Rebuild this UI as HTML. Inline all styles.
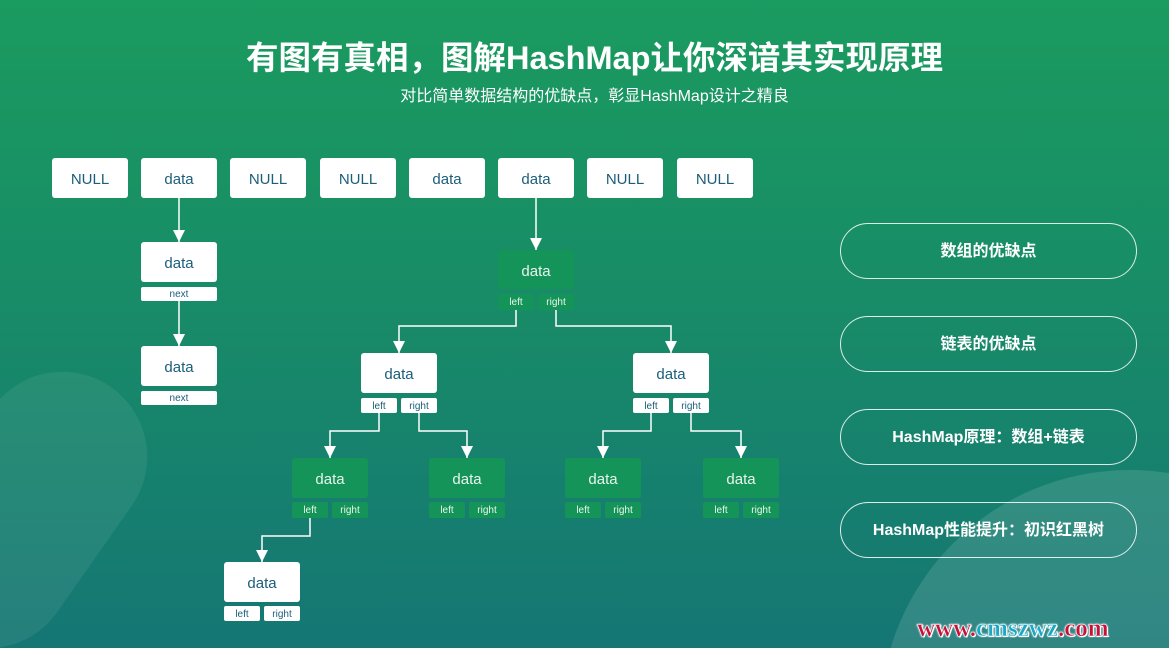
<!DOCTYPE html>
<html style="margin:0;width:1169px;height:648px;overflow:hidden;background:#157674"><head><meta charset="utf-8"><style>
body{margin:0;width:1169px;height:648px;overflow:hidden;position:relative;font-family:"Liberation Sans","Noto Sans CJK SC",sans-serif;}
#w{position:absolute;left:0;top:0;width:1169px;height:648px;overflow:hidden;background:linear-gradient(180deg,#1a9b5f 0%,#188c67 45%,#157674 100%);}
.b{position:absolute;background:#fff;border-radius:3px;color:#1b5e7a;text-align:center;font-size:15px;}
.g{position:absolute;background:#149458;border-radius:3px;color:#e8f5ee;text-align:center;font-size:15px;}
.s{font-size:10px;border-radius:2px;}
.pill{position:absolute;left:840px;width:295px;height:54px;border:1.5px solid rgba(255,255,255,.85);border-radius:28px;color:#fff;font-weight:bold;font-size:16px;line-height:56px;text-align:center;}
</style></head><body><div id="w">
<div style="position:absolute;left:-60px;top:360px;width:170px;height:300px;background:rgba(255,255,255,.07);border-radius:85px;transform:rotate(35deg)"></div>
<div style="position:absolute;left:880px;top:470px;width:500px;height:500px;background:rgba(255,255,255,.12);border-radius:50%"></div>
<div style="position:absolute;left:0;width:1189px;top:32px;text-align:center;color:#fff;font-weight:bold;font-size:32.5px;">有图有真相，图解HashMap让你深谙其实现原理</div>
<div style="position:absolute;left:0;width:1189px;top:82px;text-align:center;color:#fff;font-size:16px;">对比简单数据结构的优缺点，彰显HashMap设计之精良</div>

<div class="b" style="left:52px;top:158px;width:76px;height:40px;line-height:44px">NULL</div>
<div class="b" style="left:141px;top:158px;width:76px;height:40px;line-height:44px">data</div>
<div class="b" style="left:230px;top:158px;width:76px;height:40px;line-height:44px">NULL</div>
<div class="b" style="left:320px;top:158px;width:76px;height:40px;line-height:44px">NULL</div>
<div class="b" style="left:409px;top:158px;width:76px;height:40px;line-height:44px">data</div>
<div class="b" style="left:498px;top:158px;width:76px;height:40px;line-height:44px">data</div>
<div class="b" style="left:587px;top:158px;width:76px;height:40px;line-height:44px">NULL</div>
<div class="b" style="left:677px;top:158px;width:76px;height:40px;line-height:44px">NULL</div>

<div class="b" style="left:141px;top:242px;width:76px;height:40px;line-height:44px">data</div>
<div class="b s" style="left:141px;top:287px;width:76px;height:14px;line-height:16px">next</div>
<div class="b" style="left:141px;top:346px;width:76px;height:40px;line-height:44px">data</div>
<div class="b s" style="left:141px;top:391px;width:76px;height:14px;line-height:16px">next</div>

<div class="g" style="left:498px;top:250px;width:76px;height:39px;line-height:43px">data</div>
<div class="g s" style="left:498px;top:294px;width:36px;height:16px;line-height:18px">left</div>
<div class="g s" style="left:538px;top:294px;width:36px;height:16px;line-height:18px">right</div>

<div class="b" style="left:361px;top:353px;width:76px;height:40px;line-height:44px">data</div>
<div class="b s" style="left:361px;top:398px;width:36px;height:15px;line-height:17px">left</div>
<div class="b s" style="left:401px;top:398px;width:36px;height:15px;line-height:17px">right</div>
<div class="b" style="left:633px;top:353px;width:76px;height:40px;line-height:44px">data</div>
<div class="b s" style="left:633px;top:398px;width:36px;height:15px;line-height:17px">left</div>
<div class="b s" style="left:673px;top:398px;width:36px;height:15px;line-height:17px">right</div>

<div class="g" style="left:292px;top:458px;width:76px;height:40px;line-height:44px">data</div>
<div class="g s" style="left:292px;top:502px;width:36px;height:16px;line-height:18px">left</div>
<div class="g s" style="left:332px;top:502px;width:36px;height:16px;line-height:18px">right</div>
<div class="g" style="left:429px;top:458px;width:76px;height:40px;line-height:44px">data</div>
<div class="g s" style="left:429px;top:502px;width:36px;height:16px;line-height:18px">left</div>
<div class="g s" style="left:469px;top:502px;width:36px;height:16px;line-height:18px">right</div>
<div class="g" style="left:565px;top:458px;width:76px;height:40px;line-height:44px">data</div>
<div class="g s" style="left:565px;top:502px;width:36px;height:16px;line-height:18px">left</div>
<div class="g s" style="left:605px;top:502px;width:36px;height:16px;line-height:18px">right</div>
<div class="g" style="left:703px;top:458px;width:76px;height:40px;line-height:44px">data</div>
<div class="g s" style="left:703px;top:502px;width:36px;height:16px;line-height:18px">left</div>
<div class="g s" style="left:743px;top:502px;width:36px;height:16px;line-height:18px">right</div>

<div class="b" style="left:224px;top:562px;width:76px;height:40px;line-height:44px">data</div>
<div class="b s" style="left:224px;top:606px;width:36px;height:15px;line-height:17px">left</div>
<div class="b s" style="left:264px;top:606px;width:36px;height:15px;line-height:17px">right</div>

<svg width="1169" height="648" style="position:absolute;left:0;top:0" fill="none" stroke="#fff" stroke-width="1.5">
<g>
<path d="M179 198V242"/><path d="M179 301V346"/><path d="M536 198V250"/>
<path d="M516 310V326H399V353"/><path d="M556 310V326H671V353"/>
<path d="M379 413V431H330V458"/><path d="M419 413V431H467V458"/>
<path d="M651 413V431H603V458"/><path d="M691 413V431H741V458"/>
<path d="M310 518V536H262V562"/>
</g>
<g fill="#fff" stroke="none">
<path d="M173 230h12l-6 12z"/><path d="M173 334h12l-6 12z"/><path d="M530 238h12l-6 12z"/>
<path d="M393 341h12l-6 12z"/><path d="M665 341h12l-6 12z"/>
<path d="M324 446h12l-6 12z"/><path d="M461 446h12l-6 12z"/><path d="M597 446h12l-6 12z"/><path d="M735 446h12l-6 12z"/>
<path d="M256 550h12l-6 12z"/>
</g>
</svg>

<div class="pill" style="top:223px">数组的优缺点</div>
<div class="pill" style="top:316px">链表的优缺点</div>
<div class="pill" style="top:409px">HashMap原理：数组+链表</div>
<div class="pill" style="top:502px">HashMap性能提升：初识红黑树</div>

<div style="position:absolute;left:917px;top:614px;font-family:'Liberation Serif',serif;font-weight:bold;font-size:25px;line-height:30px;color:#c8103a;-webkit-text-stroke:0.5px #fff;text-shadow:0 0 2px #fff,0 0 2px #fff,1px 1px 0 #fff;">www.<span style="color:#1aa7c8">cmszwz</span>.com</div>
</div></body></html>
